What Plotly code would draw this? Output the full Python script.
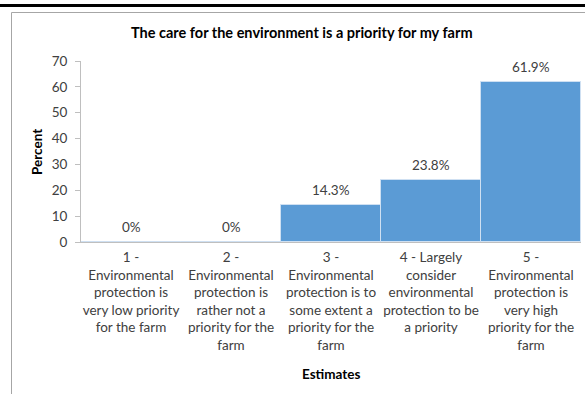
import plotly.graph_objects as go

categories = [
    "1 -<br>Environmental<br>protection is<br>very low priority<br>for the farm",
    "2 -<br>Environmental<br>protection is<br>rather not a<br>priority for the<br>farm",
    "3 -<br>Environmental<br>protection is to<br>some extent a<br>priority for the<br>farm",
    "4 - Largely<br>consider<br>environmental<br>protection to be<br>a priority",
    "5 -<br>Environmental<br>protection is<br>very high<br>priority for the<br>farm",
]
values = [0, 0, 14.3, 23.8, 61.9]
title_text = "The care for the environment is a priority for my farm"

W, H = 585, 394
L, R, T, B = 81, 4, 61, 152
pw, ph = W - L - R, H - T - B

def px_x(x):
    return (x - L) / pw

def px_y(y):
    return (H - B - y) / ph

FONT = "Lato, Carlito, Calibri, sans-serif"

fig = go.Figure(go.Bar(
    x=categories, y=values,
    marker=dict(color="#5B9BD5", line=dict(color="#cfe0f2", width=1)),
))

annotations = [
    dict(x=c, y=v, xref="x", yref="y", text=f"{v:g}%", showarrow=False,
         yanchor="bottom", xanchor="center", yshift=5,
         font=dict(size=13.5, color="#404040", family=FONT))
    for c, v in zip(categories, values)
]
annotations += [
    dict(text="<b>" + title_text + "</b>", xref="paper", yref="paper",
         x=px_x(302), y=px_y(32), showarrow=False,
         font=dict(size=14.5, color="black", family=FONT),
         xanchor="center", yanchor="middle"),
    dict(text="<b>Percent</b>", xref="paper", yref="paper",
         x=px_x(37), y=px_y(152), showarrow=False, textangle=-90,
         font=dict(size=13.5, color="black", family=FONT),
         xanchor="center", yanchor="middle"),
    dict(text="<b>Estimates</b>", xref="paper", yref="paper",
         x=px_x(331), y=px_y(374), showarrow=False,
         font=dict(size=13.5, color="black", family=FONT),
         xanchor="center", yanchor="middle"),
]

fig.update_layout(
    width=W, height=H,
    margin=dict(l=L, r=R, t=T, b=B, pad=0),
    paper_bgcolor="white", plot_bgcolor="white",
    bargap=0,
    showlegend=False,
    font=dict(family=FONT, size=13, color="#404040"),
    xaxis=dict(
        showline=True, linecolor="#bfbfbf", linewidth=1,
        ticks="", showgrid=False, ticklabelstandoff=3,
        tickfont=dict(size=13.5, color="#404040"),
    ),
    yaxis=dict(
        range=[0, 70], dtick=10,
        showline=True, linecolor="#bfbfbf", linewidth=1,
        ticks="outside", ticklen=5, tickcolor="#bfbfbf",
        ticklabelstandoff=5,
        showgrid=False, zeroline=False,
        tickfont=dict(size=13.5, color="#404040"),
    ),
    shapes=[
        dict(type="line", xref="paper", yref="paper",
             x0=px_x(0), x1=px_x(W), y0=px_y(5.5), y1=px_y(5.5),
             line=dict(color="black", width=3)),
        dict(type="line", xref="paper", yref="paper",
             x0=px_x(11.5), x1=px_x(W), y0=px_y(12.5), y1=px_y(12.5),
             line=dict(color="#a6a6a6", width=1)),
        dict(type="line", xref="paper", yref="paper",
             x0=px_x(11.5), x1=px_x(11.5), y0=px_y(12.5), y1=px_y(H + 2),
             line=dict(color="#a6a6a6", width=1)),
    ],
    annotations=annotations,
)

fig.write_html("out.html")
